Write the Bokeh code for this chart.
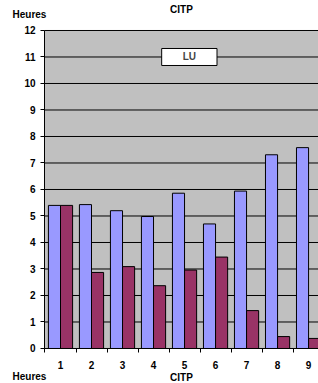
from bokeh.plotting import figure
from bokeh.models import Range1d, FixedTicker, Label, ColumnDataSource, BoxAnnotation
from bokeh.embed import file_html
from bokeh.resources import INLINE

categories = [1, 2, 3, 4, 5, 6, 7, 8, 9]
series_a = [5.40, 5.43, 5.20, 4.98, 5.86, 4.70, 5.94, 7.31, 7.58]
series_b = [5.40, 2.87, 3.09, 2.37, 2.96, 3.45, 1.43, 0.45, 0.38]
y_ticks = list(range(0, 13))
title_text = "CITP"
y_title = "Heures"
box_text = "LU"

FONT = "Liberation Sans"
off = 0.195
bw = 0.39
x_left = categories[0] - 0.516   # left edge of the plotting area
x_start, x_end = -0.935, 9.32
y_start, y_end = -1.321, 13.132

p = figure(width=318, height=383, output_backend="svg", toolbar_location=None,
           x_range=Range1d(x_start, x_end), y_range=Range1d(y_start, y_end),
           min_border=0, min_border_left=0, min_border_right=0,
           min_border_top=0, min_border_bottom=0)
p.background_fill_color = "white"
p.border_fill_color = "white"
p.outline_line_color = None
p.xgrid.visible = False
p.ygrid.visible = False

# grey plotting area
p.add_layout(BoxAnnotation(left=x_left, bottom=y_ticks[0], top=y_ticks[-1],
                           fill_color="#C0C0C0", fill_alpha=1, line_color=None, level="underlay"))

# horizontal gridlines
p.segment(x0=[x_left] * len(y_ticks), x1=[x_end] * len(y_ticks), y0=y_ticks, y1=y_ticks,
          line_color="black", line_width=1)

src = ColumnDataSource(dict(xa=[c - off for c in categories], xb=[c + off for c in categories],
                            a=series_a, b=series_b))
p.vbar(x="xa", top="a", bottom=0, width=bw, source=src, fill_color="#9999FF",
       line_color="black", line_width=1)
p.vbar(x="xb", top="b", bottom=0, width=bw, source=src, fill_color="#993366",
       line_color="black", line_width=1)

# y axis
yax = p.yaxis[0]
yax.fixed_location = x_left
yax.bounds = (y_ticks[0], y_ticks[-1])
yax.ticker = FixedTicker(ticks=y_ticks)
yax.axis_line_color = "black"
yax.major_tick_out = 4
yax.major_tick_in = 0
yax.minor_tick_line_color = None
yax.major_label_text_font = FONT
yax.major_label_text_font_style = "bold"
yax.major_label_text_font_size = "10px"
yax.major_label_text_color = "black"
yax.major_label_standoff = 5

# x axis
xax = p.xaxis[0]
xax.fixed_location = 0
xax.bounds = (x_left - 0.01, categories[-1] + 0.5)
xax.ticker = FixedTicker(ticks=categories,
                         minor_ticks=[c - 0.5 for c in categories] + [categories[-1] + 0.5])
xax.axis_line_color = "black"
xax.major_tick_out = 0
xax.major_tick_in = 0
xax.minor_tick_out = 4
xax.minor_tick_in = 0
xax.minor_tick_line_color = "black"
xax.major_label_text_font = FONT
xax.major_label_text_font_style = "bold"
xax.major_label_text_font_size = "10px"
xax.major_label_text_color = "black"
xax.major_label_standoff = 9

# LU box
p.add_layout(Label(x=5.155, y=11.0, text=box_text, text_align="center", text_baseline="middle",
                   text_font=FONT, text_font_style="bold", text_font_size="10px",
                   background_fill_color="white", border_line_color="black", border_line_width=1,
                   padding=(21, 3)))

# titles
def lab(x, y, t, align="center", baseline="middle"):
    p.add_layout(Label(x=x, y=y, text=t, text_align=align, text_baseline=baseline,
                       text_font=FONT, text_font_style="bold", text_font_size="10px",
                       text_color="black"))

lab(4.90, 12.81, title_text)
lab(-0.548, 12.585, y_title, align="left")
lab(4.90, -1.09, title_text)
lab(-0.548, -1.26, y_title, align="left", baseline="bottom")

open("out.html", "w").write(file_html(p, INLINE))
